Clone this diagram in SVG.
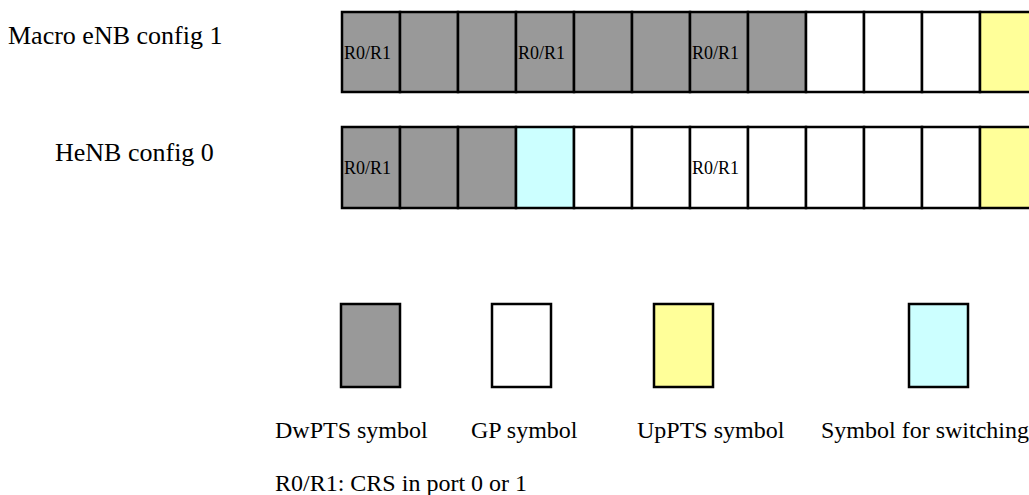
<svg xmlns="http://www.w3.org/2000/svg" width="1029" height="495" viewBox="0 0 1029 495">
<style>
.c{stroke:#000;stroke-width:2.5}
.g{fill:#999999}
.w{fill:#ffffff}
.y{fill:#ffff99}
.b{fill:#ccffff}
.t{font-family:"Liberation Serif","Times New Roman",serif;fill:#000}
.lbl{font-size:24px}
.r{font-size:18px}
</style>
<rect width="1029" height="495" fill="#fff"/>
<g id="label-macro"><text class="t" x="8" y="44" font-size="26">Macro eNB config 1</text></g>
<g id="label-henb"><text class="t" x="55" y="161" font-size="26">HeNB config 0</text></g>
<g id="row-macro">
<rect class="c g" x="342" y="12" width="58" height="80"/>
<rect class="c g" x="400" y="12" width="58" height="80"/>
<rect class="c g" x="458" y="12" width="58" height="80"/>
<rect class="c g" x="516" y="12" width="58" height="80"/>
<rect class="c g" x="574" y="12" width="58" height="80"/>
<rect class="c g" x="632" y="12" width="58" height="80"/>
<rect class="c g" x="690" y="12" width="58" height="80"/>
<rect class="c g" x="748" y="12" width="58" height="80"/>
<rect class="c w" x="806" y="12" width="58" height="80"/>
<rect class="c w" x="864" y="12" width="58" height="80"/>
<rect class="c w" x="922" y="12" width="58" height="80"/>
<rect class="c y" x="980" y="12" width="58" height="80"/>
<text class="t r" x="344" y="59">R0/R1</text>
<text class="t r" x="518" y="59">R0/R1</text>
<text class="t r" x="692" y="59">R0/R1</text>
</g>
<g id="row-henb">
<rect class="c g" x="342" y="127" width="58" height="81"/>
<rect class="c g" x="400" y="127" width="58" height="81"/>
<rect class="c g" x="458" y="127" width="58" height="81"/>
<rect class="c b" x="516" y="127" width="58" height="81"/>
<rect class="c w" x="574" y="127" width="58" height="81"/>
<rect class="c w" x="632" y="127" width="58" height="81"/>
<rect class="c w" x="690" y="127" width="58" height="81"/>
<rect class="c w" x="748" y="127" width="58" height="81"/>
<rect class="c w" x="806" y="127" width="58" height="81"/>
<rect class="c w" x="864" y="127" width="58" height="81"/>
<rect class="c w" x="922" y="127" width="58" height="81"/>
<rect class="c y" x="980" y="127" width="58" height="81"/>
<text class="t r" x="344" y="174">R0/R1</text>
<text class="t r" x="692" y="174">R0/R1</text>
</g>
<g id="legend-dwpts">
<rect class="c g" x="341" y="304" width="59" height="83"/>
<text class="t lbl" x="275" y="438">DwPTS symbol</text>
</g>
<g id="legend-gp">
<rect class="c w" x="492" y="304" width="59" height="83"/>
<text class="t lbl" x="471" y="438">GP symbol</text>
</g>
<g id="legend-uppts">
<rect class="c y" x="654" y="304" width="59" height="83"/>
<text class="t lbl" x="637" y="438">UpPTS symbol</text>
</g>
<g id="legend-switch">
<rect class="c b" x="909" y="304" width="59" height="83"/>
<text class="t lbl" x="821" y="438">Symbol for switching</text>
</g>
<g id="note"><text class="t lbl" x="275" y="491">R0/R1: CRS in port 0 or 1</text></g>
<g id="connectors"/>
</svg>
